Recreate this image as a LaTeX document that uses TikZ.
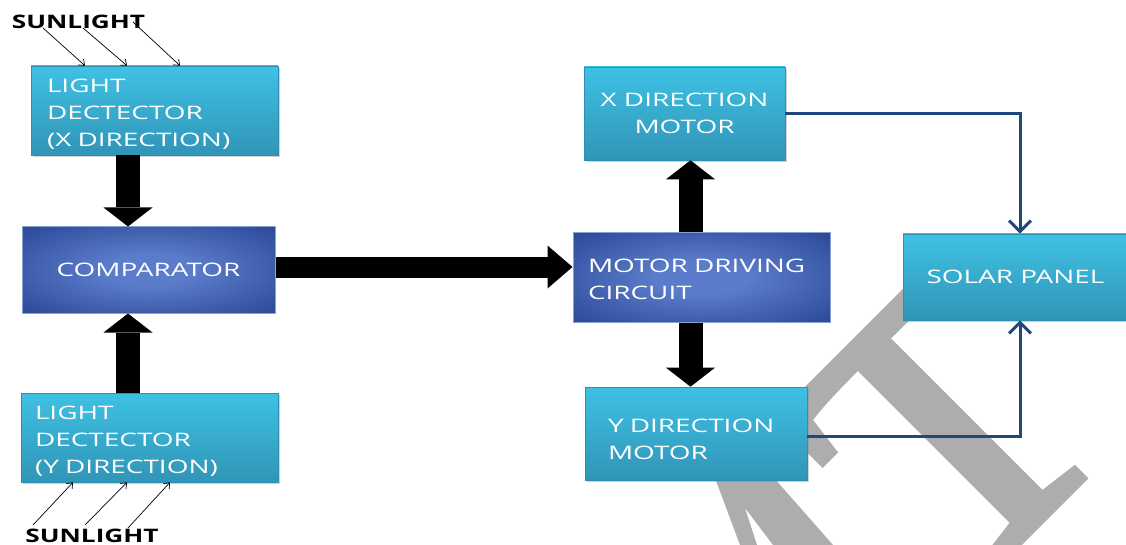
\documentclass[tikz,border=0pt]{standalone}
\usepackage{fontspec}
\newfontfamily\boxfont[FakeStretch=1.5]{Open Sans}
\newfontfamily\sunfont[FakeStretch=1.41]{Open Sans}
\newfontfamily\markfont[FakeBold=2.5]{Liberation Serif}
\usetikzlibrary{arrows.meta,shadows}

\definecolor{cyanTop}{HTML}{3FC1E4}
\definecolor{cyanBot}{HTML}{3095B7}
\definecolor{cyanEdge}{HTML}{2E8FB0}
\definecolor{navyIn}{HTML}{5B7CCA}
\definecolor{navyMid}{HTML}{3453A2}
\definecolor{navyOut}{HTML}{1A2F72}
\definecolor{navyDeep}{HTML}{122563}
\definecolor{navyEdge}{HTML}{8A9FD2}
\definecolor{feedBlue}{HTML}{1F497D}
\definecolor{markGray}{HTML}{ADADAD}

\pgfdeclareradialshading{navyglow}{\pgfpoint{0bp}{0bp}}{%
  color(0bp)=(navyIn); color(9bp)=(navyIn); color(30bp)=(navyMid); color(50bp)=(navyOut); color(71bp)=(navyDeep)}

\def \boxText {\boxfont\fontsize{18.6}{27}\selectfont}
\def \shaftWidth {24pt}

\tikzset{
  lightbox/.style={draw=cyanEdge, line width=0.6pt, top color=cyanTop, bottom color=cyanBot,
    text=white, font=\boxText, inner ysep=0pt, align=left,
    drop shadow={shadow xshift=1.5pt, shadow yshift=-2pt, opacity=0.35}},
  darkbox/.style={draw=navyEdge, line width=1pt, shading=navyglow,
    text=white, font=\boxText, inner ysep=0pt, align=left},
  bigarrow/.style={line width=\shaftWidth, -{Triangle[width=49pt, length=19pt, line width=0pt]}},
  widearrow/.style={line width=21pt, -{Triangle[width=43pt, length=25pt, line width=0pt]}},
  feed/.style={draw=feedBlue, line width=3pt, -{Straight Barb[width=22pt, length=11pt]}},
  ray/.style={line width=0.7pt, -{Straight Barb[width=8pt, length=5pt]}},
  sunlabel/.style={font=\sunfont\fontsize{18.6}{27}\selectfont\bfseries, inner sep=0pt},
  watermark/.style={text=markGray, font=\markfont\fontsize{390}{390}\selectfont, rotate=45, inner sep=0pt}
}

\begin{document}
\begin{tikzpicture}[x=1pt, y=-1pt]
  \useasboundingbox (0,0) rectangle (1126,545);

  % watermark behind everything
  \begin{scope}
    \clip (0,0) rectangle (1126,545);
    \node[watermark, anchor=base] (markT) at (1040,520) {T};
    \fill[markGray] (712,470) -- (767,470) -- (833,545) -- (773,545) -- (745,508) -- (757,545) -- (740,545) -- cycle;
  \end{scope}

  % blocks
  \node[lightbox, text width=215pt, inner xsep=16pt, minimum height=89pt] (ldx) at (154.5,110.5) {\rule{0pt}{21pt}LIGHT\\DECTECTOR\\(X DIRECTION)};
  \node[darkbox, minimum width=253pt, minimum height=86pt, align=center] (comp) at (148.5,270) {COMPARATOR};
  \node[lightbox, text width=229pt, inner xsep=14pt, minimum height=89pt] (ldy) at (149.5,437.5) {\rule{0pt}{20pt}LIGHT\\DECTECTOR\\(Y DIRECTION)};
  \node[darkbox, text width=227pt, inner xsep=15pt, minimum height=89pt] (mdc) at (701.5,277.5) {\rule{0pt}{17pt}MOTOR DRIVING\\CIRCUIT};
  \node[lightbox, minimum width=201pt, minimum height=93pt, align=center] (xdm) at (684.5,113.5) {X DIRECTION\\MOTOR};
  \node[lightbox, text width=176pt, inner xsep=23pt, minimum height=93pt] (ydm) at (696,433.5) {\rule{0pt}{25pt}Y DIRECTION\\MOTOR};
  \node[lightbox, minimum width=225pt, minimum height=86pt, align=center] (solar) at (1015.5,277) {SOLAR PANEL};

  % thick signal arrows
  \draw[bigarrow] ([xshift=-26.5pt]ldx.south) -- ([xshift=-20.5pt]comp.north);
  \draw[bigarrow] ([xshift=-21.5pt]ldy.north) -- ([xshift=-20.5pt]comp.south);
  \draw[widearrow] ([yshift=3pt]comp.east) -- ([yshift=10.5pt]mdc.west);
  \draw[bigarrow] ([xshift=-11pt]mdc.north) -- ([xshift=6pt]xdm.south);
  \draw[bigarrow] ([xshift=-11pt]mdc.south) -- ([xshift=-5.5pt]ydm.north);

  % motors to panel
  \draw[feed] (xdm.east) -| ([xshift=4.5pt]solar.north);
  \draw[feed] ([yshift=-3pt]ydm.east) -| ([xshift=4.5pt]solar.south);

  % sunlight
  \node[sunlabel] (sunTop) at (78.5,21.5) {SUNLIGHT};
  \node[sunlabel] (sunBot) at (92,536) {SUNLIGHT};
  \coordinate (rayA) at (43,28);
  \coordinate (rayB) at (83,28);
  \coordinate (rayC) at (133,22);
  \draw[ray] (rayA) -- ([xshift=-69.5pt]ldx.north);
  \draw[ray] (rayB) -- ([xshift=-27.5pt]ldx.north);
  \draw[ray] (rayC) -- ([xshift=25.5pt]ldx.north);
  \coordinate (rayD) at (33,525);
  \coordinate (rayE) at (85,525);
  \coordinate (rayF) at (128,528);
  \draw[ray] (rayD) -- ([xshift=-76.5pt]ldy.south);
  \draw[ray] (rayE) -- ([xshift=-22.5pt]ldy.south);
  \draw[ray] (rayF) -- ([xshift=20.5pt]ldy.south);
\end{tikzpicture}
\end{document}
